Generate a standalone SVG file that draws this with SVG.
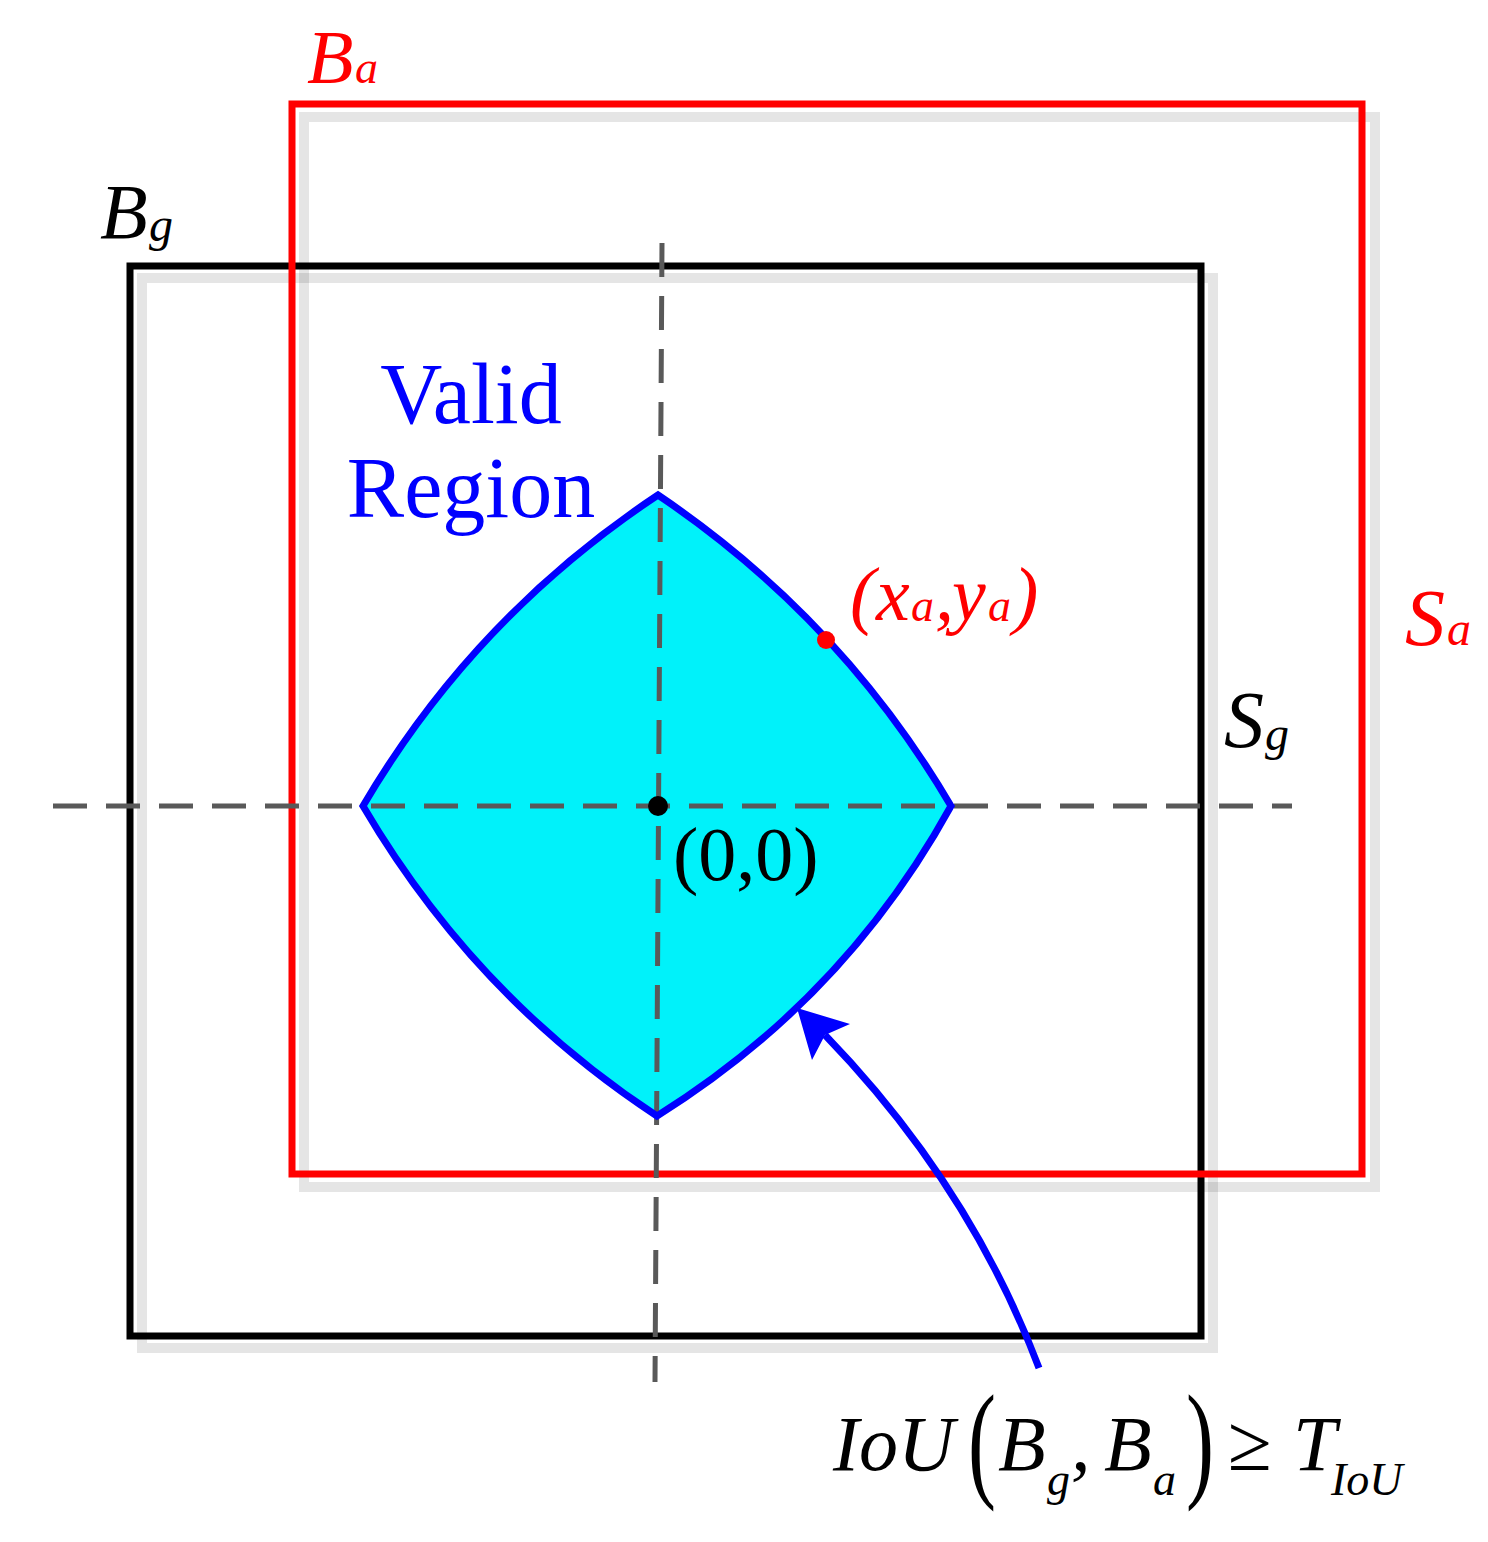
<svg xmlns="http://www.w3.org/2000/svg" width="1488" height="1542" viewBox="0 0 1488 1542">
<defs>
<style>
.it{font-family:"Liberation Serif","Times New Roman",serif;font-style:italic}
.rm{font-family:"Liberation Serif","Times New Roman",serif}
.shadow{fill:none;stroke:#000;stroke-opacity:0.1;stroke-width:10}
.dash{fill:none;stroke:#595959;stroke-width:5;stroke-dasharray:34 19}
</style>
</defs>
<rect width="1488" height="1542" fill="#fff"/>
<g id="box-g">
<rect class="shadow" x="142" y="278" width="1071" height="1070"/>
<rect x="130" y="266" width="1071" height="1070" fill="none" stroke="#000" stroke-width="7"/>
</g>
<g id="box-a">
<rect class="shadow" x="304" y="117" width="1071" height="1070"/>
<rect x="292" y="104" width="1070" height="1070" fill="none" stroke="#f00" stroke-width="7"/>
</g>
<g id="region-fill">
<path d="M658,495 C778,576 877,680 951,806 C880,935 782,1038 657,1116 C535,1036 437,932 363,806 C437,680 536,576 658,495 Z" fill="#00f2fa"/>
</g>
<g id="axes">
<path class="dash" d="M53,806 H1292"/>
<path class="dash" d="M662,243 L655,1382"/>
</g>
<g id="region">
<path d="M658,495 C778,576 877,680 951,806 C880,935 782,1038 657,1116 C535,1036 437,932 363,806 C437,680 536,576 658,495 Z" fill="none" stroke="#00f" stroke-width="7" stroke-linejoin="miter"/>
<circle cx="658" cy="806" r="10" fill="#000"/>
<circle cx="826" cy="640" r="9" fill="#f00"/>
</g>
<g id="connectors">
<path d="M1039,1368 Q970,1185 825,1035" fill="none" stroke="#00f" stroke-width="7"/>
<path d="M797,1008 L850,1024 L825,1035 L812,1060 Z" fill="#00f"/>
</g>
<g id="label-ba" class="it" fill="#f00">
<text x="307" y="83" font-size="76">B</text>
<text x="355" y="83" font-size="46">a</text>
</g>
<g id="label-bg" class="it" fill="#000">
<text x="100" y="238" font-size="78">B</text>
<text x="149" y="241" font-size="48">g</text>
</g>
<g id="label-sa" class="it" fill="#f00">
<text x="1405" y="645" font-size="80">S</text>
<text x="1447" y="645" font-size="48">a</text>
</g>
<g id="label-sg" class="it" fill="#000">
<text x="1224" y="747" font-size="80">S</text>
<text x="1265" y="750" font-size="48">g</text>
</g>
<g id="label-xaya" class="it" fill="#f00">
<text x="850" y="620" font-size="76">(</text>
<text x="876" y="620" font-size="76">x</text>
<text x="911" y="621" font-size="46">a</text>
<text x="935" y="620" font-size="76">,</text>
<text x="952" y="620" font-size="76">y</text>
<text x="988" y="621" font-size="46">a</text>
<text x="1013" y="620" font-size="76">)</text>
</g>
<g id="label-origin">
<text class="rm" x="673" y="880" font-size="76" fill="#000">(0,0)</text>
</g>
<g id="label-valid" class="rm" fill="#00f" font-size="86" text-anchor="middle">
<text x="471" y="423">Valid</text>
<text x="471" y="517">Region</text>
</g>
<g id="formula" fill="#000">
<text class="it" x="833" y="1470" font-size="78">IoU</text>
<text class="rm" font-size="84" transform="translate(968,1484) scale(1,1.55)">(</text>
<text class="it" x="998" y="1470" font-size="78">B</text>
<text class="it" x="1047" y="1495" font-size="46">g</text>
<text class="it" x="1071" y="1470" font-size="78">,</text>
<text class="it" x="1104" y="1470" font-size="78">B</text>
<text class="it" x="1153" y="1495" font-size="46">a</text>
<text class="rm" font-size="84" transform="translate(1186,1484) scale(1,1.55)">)</text>
<text class="rm" x="1228" y="1470" font-size="80">≥</text>
<text class="it" x="1293" y="1470" font-size="78">T</text>
<text class="it" x="1331" y="1495" font-size="46">IoU</text>
</g>
</svg>
